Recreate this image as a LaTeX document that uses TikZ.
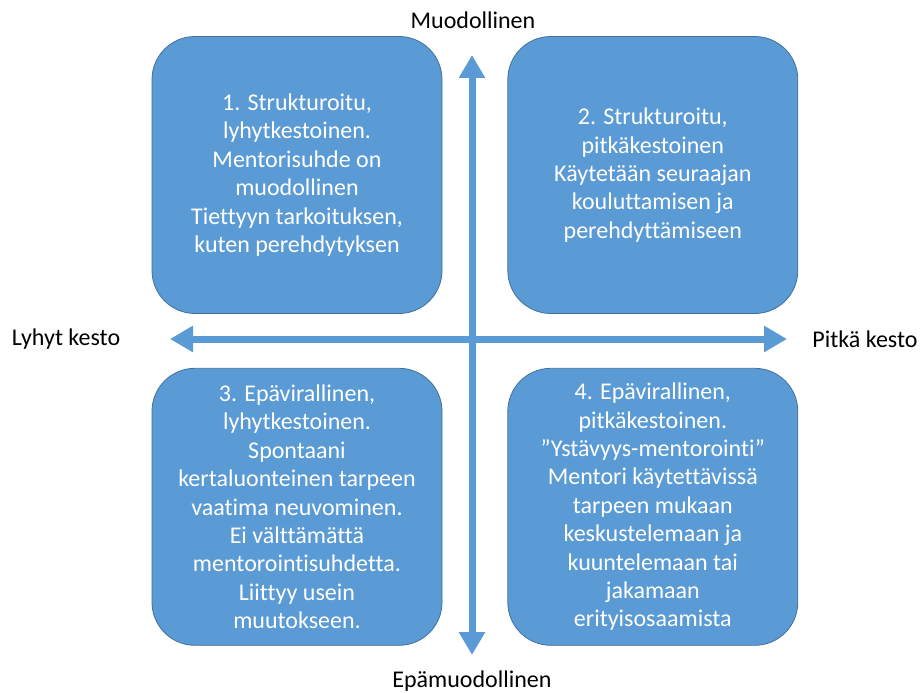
\documentclass[tikz,border=0pt]{standalone}
\usepackage{fontspec}
\setmainfont{Carlito}[Ligatures=NoCommon]
\usepackage{xcolor}
\usetikzlibrary{arrows.meta,positioning}
\definecolor{quadblue}{HTML}{5B9BD5}
\definecolor{quadedge}{HTML}{41719C}

\begin{document}
\begin{tikzpicture}[
  x=1pt,y=-1pt,
  node distance=54pt and 65pt,
  box/.style={draw=quadedge,line width=0.8pt,fill=quadblue,rounded corners=43pt,minimum width=290pt,minimum height=277pt,align=center,text=white,font=\fontsize{24}{28.4}\selectfont,inner sep=0pt},
  axislabel/.style={font=\fontsize{24}{28}\selectfont,inner sep=0pt},
  axis/.style={{Triangle[length=23pt,width=25pt]}-{Triangle[length=23pt,width=25pt]},line width=7pt,draw=quadblue}
]
\useasboundingbox (0,0) rectangle (921,693);
% nelikentta
\node[box] (formshort) at (297,175) {1. Strukturoitu,\\lyhytkestoinen.\\Mentorisuhde on\\muodollinen\\Tiettyyn tarkoituksen,\\kuten perehdytyksen};
\node[box,right=of formshort] (formlong) {2. Strukturoitu,\\pitkäkestoinen\\Käytetään seuraajan\\kouluttamisen ja\\perehdyttämiseen};
\node[box,below=of formshort] (infshort) {3. Epävirallinen,\\lyhytkestoinen.\\Spontaani\\kertaluonteinen tarpeen\\vaatima neuvominen.\\Ei välttämättä\\mentorointisuhdetta.\\Liittyy usein\\muutokseen.};
\node[box,below=of formlong] (inflong) {4. Epävirallinen,\\pitkäkestoinen.\\”Ystävyys-mentorointi”\\Mentori käytettävissä\\tarpeen mukaan\\keskustelemaan ja\\kuuntelemaan tai\\jakamaan\\erityisosaamista};
% akselit
\coordinate (top) at (472,55);
\coordinate (bottom) at (472,655);
\coordinate (left) at (170,339);
\coordinate (right) at (787,339);
\node[axislabel] (formal) at (473,20) {Muodollinen};
\node[axislabel] (informal) at (472,681) {Epämuodollinen};
\node[axislabel] (short) at (66,339) {Lyhyt kesto};
\node[axislabel] (long) at (865,339) {Pitkä kesto};
\draw[axis] (top)--(bottom);
\draw[axis] (left)--(right);
\end{tikzpicture}
\end{document}
